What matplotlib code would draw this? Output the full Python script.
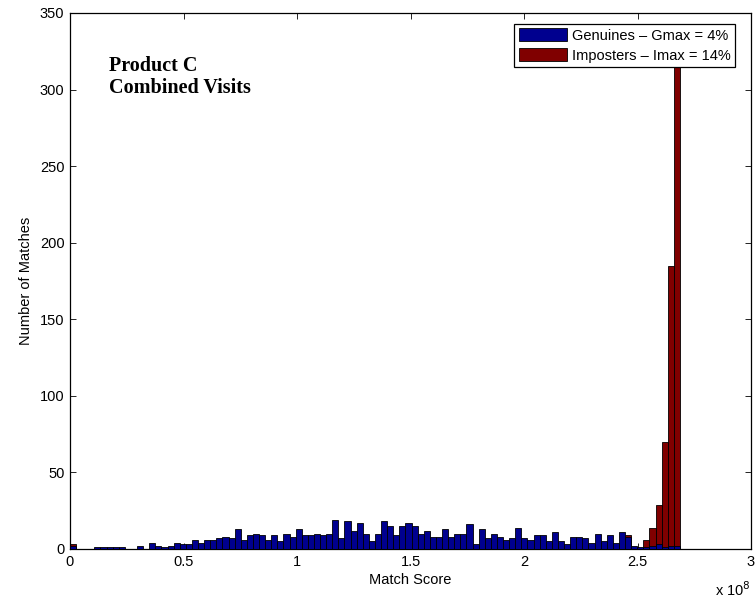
import numpy as np
import matplotlib
matplotlib.use("Agg")
import matplotlib.pyplot as plt

plt.rcParams["font.family"] = ["Liberation Sans", "DejaVu Sans"]

# Histogram: 100 equal bins from 0 to the largest match score
score_max = 2.687e8
n_bins = 100

genuine_counts = [
    2, 0, 0, 0, 1, 1, 1, 1, 1, 0,
    0, 2, 0, 4, 2, 1, 2, 4, 3, 3,
    6, 4, 6, 6, 7, 8, 7, 13, 6, 9,
    10, 9, 6, 9, 5, 10, 8, 13, 9, 9,
    10, 9, 10, 19, 7, 18, 12, 17, 10, 5,
    10, 18, 15, 9, 15, 17, 15, 10, 12, 8,
    8, 13, 8, 10, 10, 16, 3, 13, 7, 10,
    8, 6, 7, 14, 7, 6, 9, 9, 5, 11,
    5, 3, 8, 8, 7, 4, 10, 5, 9, 4,
    11, 8, 2, 1, 1, 2, 3, 1, 2, 2,
]

imposter_counts = [
    3, 0, 0, 0, 0, 0, 0, 0, 0, 0,
    0, 0, 0, 0, 0, 0, 0, 0, 0, 0,
    0, 0, 0, 0, 0, 0, 0, 0, 0, 0,
    0, 0, 0, 0, 0, 0, 0, 0, 0, 0,
    0, 0, 0, 0, 0, 0, 0, 0, 0, 0,
    0, 0, 0, 0, 0, 0, 0, 0, 0, 0,
    0, 0, 0, 0, 0, 0, 0, 0, 0, 0,
    0, 0, 0, 0, 0, 0, 0, 0, 0, 0,
    0, 0, 0, 0, 0, 0, 0, 0, 0, 0,
    0, 9, 0, 0, 6, 14, 29, 70, 185, 330,
]

series_labels = ["Genuines \u2013 Gmax = 4%", "Imposters \u2013 Imax = 14%"]
x_ticks = [0, 0.5e8, 1.0e8, 1.5e8, 2.0e8, 2.5e8, 3.0e8]
x_tick_labels = ["0", "0.5", "1", "1.5", "2", "2.5", "3"]
y_ticks = [0, 50, 100, 150, 200, 250, 300, 350]
annotation_lines = ["Product C", "Combined Visits"]

edges = np.linspace(0, score_max, n_bins + 1)
centers = (edges[:-1] + edges[1:]) / 2
width = edges[1] - edges[0]

fig = plt.figure(figsize=(7.56, 6.0), dpi=100)
ax = fig.add_axes([70 / 756, 51 / 600, 681 / 756, 536 / 600])

red = "#800000"
blue = "#00008f"
imp = ax.bar(centers, imposter_counts, width=width, color=red,
             edgecolor="black", linewidth=0.6, zorder=2)
gen = ax.bar(centers, genuine_counts, width=width, color=blue,
             edgecolor="black", linewidth=0.6, zorder=3)

ax.set_xlim(0, 3.0e8)
ax.set_ylim(0, 350)
ax.set_xticks(x_ticks)
ax.set_xticklabels(x_tick_labels)
ax.set_yticks(y_ticks)
ax.tick_params(direction="in", top=True, right=True, length=4, width=0.6,
               labelsize=10.5, pad=4)
for sp in ax.spines.values():
    sp.set_linewidth(0.9)

ax.set_xlabel("Match Score", fontsize=10.5, labelpad=3)
ax.set_ylabel("Number of Matches", fontsize=10.5, labelpad=5)

fig.text(715 / 756, 1 - 590 / 600, "x 10$^8$", fontsize=10.5,
         ha="left", va="center")

serif = ["Liberation Serif", "DejaVu Serif"]
ax.text(0.172e8, 312, annotation_lines[0], family=serif, fontweight="bold",
        fontsize=14.5, va="baseline", ha="left", zorder=5)
ax.text(0.172e8, 297.5, annotation_lines[1], family=serif, fontweight="bold",
        fontsize=14.5, va="baseline", ha="left", zorder=5)

leg = ax.legend([gen, imp], series_labels, loc="upper right",
                bbox_to_anchor=((735 - 70) / 681, (549 - 24) / 536),
                borderaxespad=0, fontsize=10.5, fancybox=False,
                edgecolor="black", framealpha=1, handlelength=3.3,
                handleheight=1.0, labelspacing=0.35, borderpad=0.3,
                handletextpad=0.35)
leg.get_frame().set_linewidth(0.9)
leg.set_zorder(10)

fig.savefig("out.png", dpi=100)
